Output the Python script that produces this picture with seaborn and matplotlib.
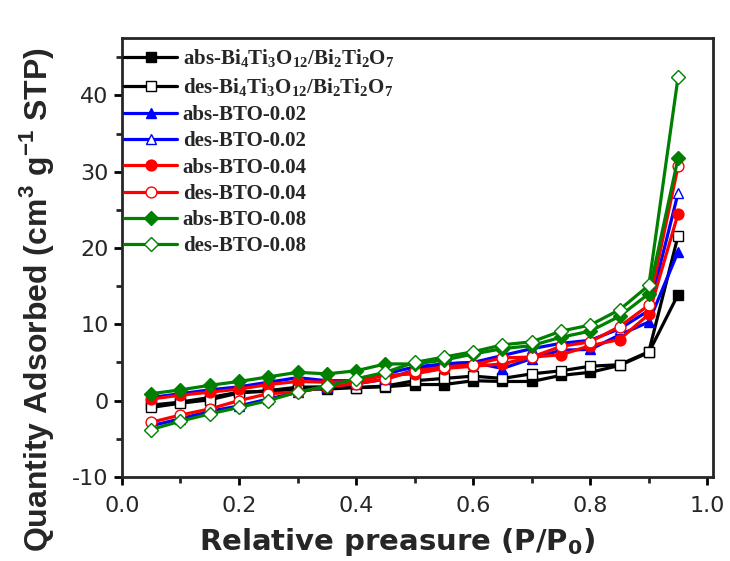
import matplotlib
matplotlib.use("Agg")
import matplotlib.pyplot as plt
import seaborn as sns
import pandas as pd
from matplotlib.ticker import MultipleLocator, FormatStrFormatter

# relative pressure points
pressure = [0.05, 0.10, 0.15, 0.20, 0.25, 0.30, 0.35, 0.40, 0.45, 0.50,
            0.55, 0.60, 0.65, 0.70, 0.75, 0.80, 0.85, 0.90, 0.95]

abs_bt = [-0.6, -0.2, 0.4, 1.1, 1.2, 1.5, 1.5, 1.7, 1.8, 2.1,
          2.1, 2.6, 2.5, 2.5, 3.3, 3.7, 4.6, 6.3, 13.9]
des_bt = [-0.9, -0.35, 0.1, 1.0, 1.3, 1.75, 1.8, 1.7, 1.9, 2.6,
          2.9, 3.2, 2.9, 3.5, 3.9, 4.5, 4.7, 6.4, 21.6]
abs_002 = [0.4, 0.9, 1.4, 1.8, 2.4, 3.0, 2.6, 2.6, 3.5, 4.4,
           4.8, 5.0, 4.2, 5.5, 6.6, 6.7, 8.6, 10.3, 19.5]
des_002 = [-3.3, -2.4, -1.4, -0.7, 0.2, 1.1, 1.8, 2.2, 2.8, 4.0,
           4.8, 5.0, 5.9, 6.8, 7.5, 7.9, 9.4, 11.8, 27.2]
abs_004 = [0.2, 0.7, 1.1, 1.5, 2.1, 2.5, 2.4, 2.5, 3.3, 3.5,
           4.2, 4.5, 4.8, 5.7, 6.0, 7.2, 8.0, 11.3, 24.5]
des_004 = [-2.85, -1.9, -1.1, 0.0, 0.9, 1.1, 1.8, 2.2, 2.8, 3.9,
           4.4, 4.7, 5.6, 5.7, 7.1, 7.7, 9.7, 12.5, 30.7]
abs_008 = [0.9, 1.4, 2.0, 2.5, 3.1, 3.7, 3.5, 3.9, 4.8, 4.8,
           5.3, 6.1, 6.8, 7.2, 8.3, 9.1, 11.05, 14.0, 31.8]
des_008 = [-3.8, -2.7, -1.75, -0.9, 0.0, 1.1, 1.9, 2.85, 3.7, 5.0,
           5.7, 6.4, 7.3, 7.7, 9.1, 9.9, 11.9, 15.1, 42.4]

bt = (r"Bi$_{\mathdefault{4}}$Ti$_{\mathdefault{3}}$O$_{\mathdefault{12}}$"
      r"/Bi$_{\mathdefault{2}}$Ti$_{\mathdefault{2}}$O$_{\mathdefault{7}}$")
series = [
    ("abs-" + bt, abs_bt, "black", "s", True),
    ("des-" + bt, des_bt, "black", "s", False),
    ("abs-BTO-0.02", abs_002, "blue", "^", True),
    ("des-BTO-0.02", des_002, "blue", "^", False),
    ("abs-BTO-0.04", abs_004, "red", "o", True),
    ("des-BTO-0.04", des_004, "red", "o", False),
    ("abs-BTO-0.08", abs_008, "#008000", "D", True),
    ("des-BTO-0.08", des_008, "#008000", "D", False),
]

sns.set_style("ticks")
plt.rcParams["font.family"] = ["DejaVu Sans"]
plt.rcParams["mathtext.fontset"] = "custom"
plt.rcParams["mathtext.rm"] = "DejaVu Sans:bold"
plt.rcParams["axes.unicode_minus"] = False

fig = plt.figure(figsize=(7.3, 5.61), dpi=100)
ax = fig.add_axes([0.167, 0.150, 0.810, 0.782])

for label, vals, col, mk, filled in series:
    df = pd.DataFrame({"p": pressure, "q": vals})
    ms = 7.2 if mk == "D" else 7.8
    sns.lineplot(data=df, x="p", y="q", ax=ax, sort=False, color=col,
                 linewidth=2.3, marker=mk, markersize=ms,
                 markerfacecolor=col if filled else "white",
                 markeredgecolor=col, markeredgewidth=1.0,
                 label=label)

ax.set_xlim(0, 1.01)
ax.set_ylim(-10, 47.5)
ax.xaxis.set_major_locator(MultipleLocator(0.2))
ax.xaxis.set_minor_locator(MultipleLocator(0.1))
ax.yaxis.set_major_locator(MultipleLocator(10))
ax.yaxis.set_minor_locator(MultipleLocator(5))
ax.xaxis.set_major_formatter(FormatStrFormatter("%.1f"))

for s in ax.spines.values():
    s.set_linewidth(2.0)
    s.set_visible(True)
ax.tick_params(which="major", direction="out", length=5.5, width=2,
               labelsize=16, color="black")
ax.tick_params(axis="x", which="major", pad=8)
ax.tick_params(axis="y", which="major", pad=4)
ax.tick_params(which="minor", direction="out", length=4, width=2)

ax.set_xlabel("Relative preasure (P/P$_0$)", fontsize=21, fontweight="bold")
ax.xaxis.set_label_coords(0.465, -0.112)
ax.set_ylabel(r"Quantity Adsorbed (cm$^{\mathdefault{3}}$ g$^{\mathdefault{-1}}$ STP)",
              fontsize=23, fontweight="bold", family="Liberation Sans")
ax.yaxis.set_label_coords(-0.112, 0.405)

ax.legend(loc="upper left", bbox_to_anchor=(-0.015, 1.005), frameon=False,
          prop={"family": "Liberation Serif", "weight": "bold", "size": 15},
          handlelength=2.5, handletextpad=0.3, labelspacing=0.3,
          borderaxespad=0.35, borderpad=0.2)

fig.savefig("out.png", dpi=100)
